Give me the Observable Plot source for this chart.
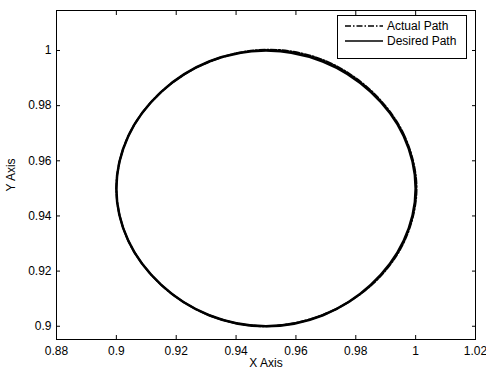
<!DOCTYPE html>
<html><head><meta charset="utf-8">
<script src="https://cdn.jsdelivr.net/npm/d3@7"></script>
<script src="https://cdn.jsdelivr.net/npm/@observablehq/plot@0.6"></script>
<style>
body{margin:0;background:#fff;font-family:"Liberation Sans",Arial,sans-serif;}
#wrap{position:relative;width:486px;height:369px;overflow:hidden;}
#legend{position:absolute;left:337px;top:15px;width:128px;height:42px;border:1px solid #000;background:#fff;font-size:12px;}
#legend .row{position:absolute;left:7px;height:14px;display:flex;align-items:center;}
#legend .row span{margin-left:4px;}
</style>
</head><body>
<div id="wrap"></div>
<script>
// Desired path
const desiredX = [1.000,0.996,0.985,0.969,0.950,0.931,0.915,0.904,0.900,0.904,0.915,0.931,0.950,0.969,0.985,0.996];
const desiredY = [0.950,0.969,0.985,0.996,1.000,0.996,0.985,0.969,0.950,0.931,0.915,0.904,0.900,0.904,0.915,0.931];
// Actual path (small deviations)
const actualX = [1.0003,0.9962,0.9852,0.9692,0.9505,0.9312,0.9150,0.9040,0.9000,0.9040,0.9150,0.9310,0.9500,0.9692,0.9856,0.9963];
const actualY = [0.9500,0.9692,0.9853,0.9965,1.0003,0.9960,0.9850,0.9690,0.9500,0.9310,0.9150,0.9040,0.9000,0.9042,0.9153,0.9310];
const xTicks = [0.88,0.9,0.92,0.94,0.96,0.98,1,1.02];
const yTicks = [0.9,0.92,0.94,0.96,0.98,1];
const seriesNames = ["Actual Path","Desired Path"];

const desired = desiredX.map((x,i)=>({x, y: desiredY[i]}));
const actual = actualX.map((x,i)=>({x, y: actualY[i]}));
const fmt = d => d3.format("~g")(+d.toFixed(2));

const plot = Plot.plot({
  width: 486, height: 369,
  marginLeft: 56, marginRight: 11, marginTop: 10, marginBottom: 30,
  style: {fontFamily: '"Liberation Sans", Arial, sans-serif', fontSize: "12px", background: "#fff", color: "#000"},
  x: {domain: [0.88, 1.02]},
  y: {domain: [0.8952, 1.0145]},
  marks: [
    Plot.line(desired, {x:"x", y:"y", curve:"catmull-rom-closed", stroke:"#000", strokeWidth:2.5}),
    Plot.line(actual, {x:"x", y:"y", curve:"catmull-rom-closed", stroke:"#000", strokeWidth:2, strokeDasharray:"6,2,1.5,2"}),
    Plot.frame({stroke:"#000", strokeWidth:1}),
    Plot.axisX({ticks: xTicks, anchor:"bottom", tickSize:0, tickPadding:7, tickFormat: fmt, label:"X Axis", labelAnchor:"center", labelArrow:"none", labelOffset:27, fontSize:12}),
    Plot.axisX({ticks: xTicks, anchor:"bottom", tickSize:4, text:null, label:null, dy:-4}),
    Plot.axisX({ticks: xTicks, anchor:"top", tickSize:4, text:null, label:null, dy:4}),
    Plot.axisY({ticks: yTicks, anchor:"left", tickSize:0, tickPadding:5, tickFormat: fmt, label:"Y Axis", labelAnchor:"center", labelArrow:"none", labelOffset:50, fontSize:12}),
    Plot.axisY({ticks: yTicks, anchor:"left", tickSize:4, text:null, label:null, dx:4}),
    Plot.axisY({ticks: yTicks, anchor:"right", tickSize:4, text:null, label:null, dx:-4})
  ]
});
document.getElementById("wrap").appendChild(plot);

const legend = document.createElement("div");
legend.id = "legend";
const dashes = ["6,2,1.5,2", null];
seriesNames.forEach((name,i)=>{
  const row = document.createElement("div");
  row.className = "row";
  row.style.top = (10 + i*15 - 7) + "px";
  row.innerHTML = `<svg width="38" height="4"><line x1="0" x2="38" y1="2" y2="2" stroke="#000" stroke-width="1.5" ${dashes[i]?`stroke-dasharray="${dashes[i]}"`:""}/></svg><span>${name}</span>`;
  legend.appendChild(row);
});
document.getElementById("wrap").appendChild(legend);
</script>
</body></html>
